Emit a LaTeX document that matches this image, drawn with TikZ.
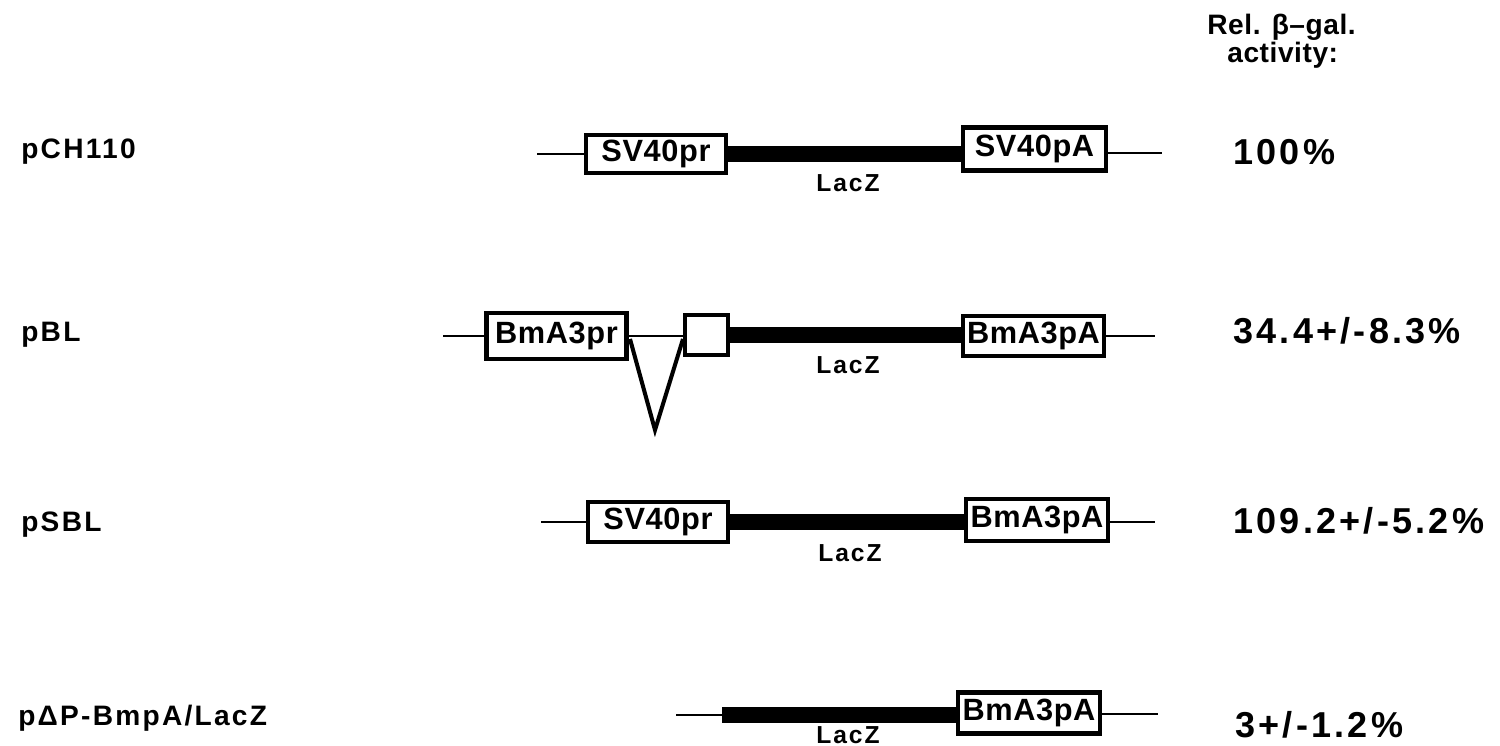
\documentclass[tikz,border=0pt]{standalone}
\usepackage{fontspec}
\setmainfont{Liberation Sans}
\newfontfamily\lblfont[LetterSpace=8]{Liberation Sans}
\newfontfamily\valfont[LetterSpace=9]{Liberation Sans}
\newfontfamily\boxfont[LetterSpace=2]{Liberation Sans}
\newfontfamily\laczfont[LetterSpace=8]{Liberation Sans}
\begin{document}
\begin{tikzpicture}[x=0.02cm,y=-0.02cm,
  gbox/.style={draw=black,line width=2.6pt,fill=white,inner sep=0pt,
    font=\boxfont\bfseries\fontsize{17.5}{19}\selectfont},
  thin/.style={line width=1.7pt},
  lacz/.style={line width=9.2pt},
  vee/.style={line width=2.3pt,line join=miter},
  laczlbl/.style={font=\laczfont\bfseries\fontsize{14}{16}\selectfont,inner sep=0pt},
  rowlbl/.style={anchor=base west,inner sep=0pt,font=\lblfont\bfseries\fontsize{16}{18}\selectfont},
  vallbl/.style={anchor=base west,inner sep=0pt,font=\valfont\bfseries\fontsize{20.5}{23}\selectfont},
  hdr/.style={anchor=base west,inner sep=0pt,font=\boxfont\bfseries\fontsize{16}{18}\selectfont}]
\useasboundingbox (0,0) rectangle (1500,746);
% header
\node[hdr] (h1) at (1207,35) {Rel. β–gal.};
\node[hdr] (h2) at (1227,63) {activity:};
% row labels
\node[rowlbl] (l1) at (21,159) {pCH110};
\node[rowlbl] (l2) at (21,341) {pBL};
\node[rowlbl] (l3) at (21,531) {pSBL};
\node[rowlbl] (l4) at (18,725) {pΔP-BmpA/LacZ};
% values
\node[vallbl] (v1) at (1233,165) {100\%};
\node[vallbl] (v2) at (1233,343) {34.4+/-8.3\%};
\node[vallbl] (v3) at (1233,533) {109.2+/-5.2\%};
\node[vallbl] (v4) at (1235,737) {3+/-1.2\%};
% row 1
\coordinate (a0) at (537,153);
\coordinate (a3) at (1162,153);
\node[gbox,minimum width=140*0.02cm,minimum height=38*0.02cm] (a1) at (656,154) {SV40pr};
\node[gbox,minimum width=143*0.02cm,minimum height=43*0.02cm] (a2) at (1034.5,149) {SV40pA};
\draw[thin] (a1.west -| a0) -- (a1.west);
\draw[lacz] (a1.east) -- (a1.east -| a2.west);
\draw[thin] (a2.east |- a3) -- (a3);
\node[laczlbl] (az) at (848,183) {LacZ};
% row 2
\coordinate (b0) at (443,336);
\coordinate (b4) at (1155,336);
\node[gbox,minimum width=140*0.02cm,minimum height=46*0.02cm] (b1) at (556.5,336) {BmA3pr};
\node[gbox,minimum width=43*0.02cm,minimum height=40*0.02cm] (b2) at (706.5,335) {};
\node[gbox,minimum width=141*0.02cm,minimum height=40*0.02cm] (b3) at (1033.5,336) {BmA3pA};
\coordinate (bt1) at (630,339);
\coordinate (bt2) at (655,430);
\coordinate (bt3) at (683,339);
\draw[thin] (b1.west -| b0) -- (b1.west);
\draw[thin] (b1.east) -- (b1.east -| b2.west);
\draw[vee] (bt1) -- (bt2) -- (bt3);
\draw[lacz] (b2.east) -- (b2.east -| b3.west);
\draw[thin] (b3.east |- b4) -- (b4);
\node[laczlbl] (bz) at (848,365) {LacZ};
% row 3
\coordinate (c0) at (541,522);
\coordinate (c3) at (1155,522);
\node[gbox,minimum width=140*0.02cm,minimum height=40*0.02cm] (c1) at (658,522) {SV40pr};
\node[gbox,minimum width=142*0.02cm,minimum height=42*0.02cm] (c2) at (1037,520) {BmA3pA};
\draw[thin] (c1.west -| c0) -- (c1.west);
\draw[lacz] (c1.east) -- (c1.east -| c2.west);
\draw[thin] (c2.east |- c3) -- (c3);
\node[laczlbl] (cz) at (850,553) {LacZ};
% row 4
\coordinate (d0) at (676,715);
\coordinate (d1) at (722,715);
\coordinate (d3) at (1158,714);
\node[gbox,minimum width=142*0.02cm,minimum height=41*0.02cm] (d2) at (1029,713) {BmA3pA};
\draw[thin] (d0) -- (d1);
\draw[lacz] (d1) -- (d1 -| d2.west);
\draw[thin] (d2.east |- d3) -- (d3);
\node[laczlbl] (dz) at (848,735) {LacZ};
\end{tikzpicture}
\end{document}
